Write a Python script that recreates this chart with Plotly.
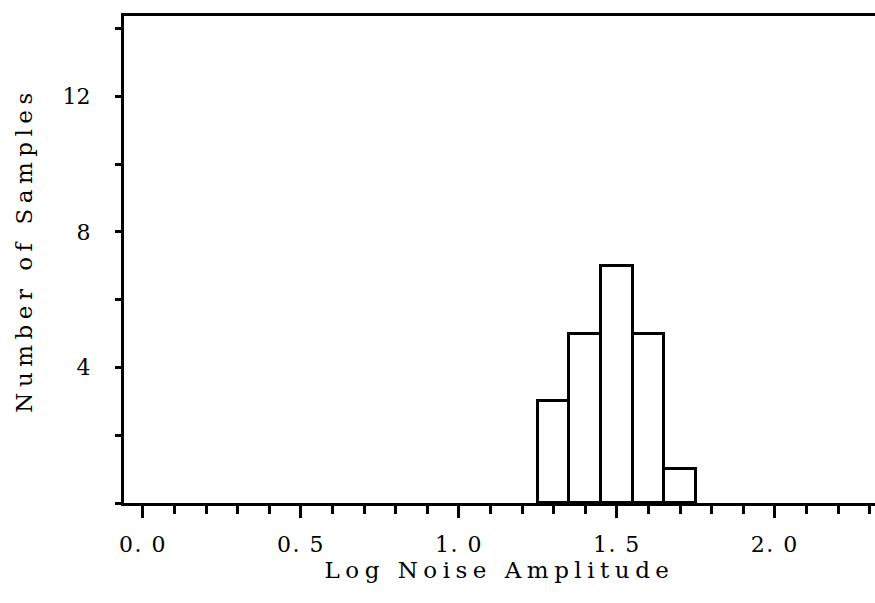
import plotly.graph_objects as go

# Data
bin_centers = [1.3, 1.4, 1.5, 1.6, 1.7]
counts = [3, 5, 7, 5, 1]
bin_width = 0.1
x_tick_vals = [0.0, 0.5, 1.0, 1.5, 2.0]
x_tick_text = ["0. 0", "0. 5", "1. 0", "1. 5", "2. 0"]
y_tick_vals = [4, 8, 12]
y_tick_text = ["4", "8", "12"]

FONT = "DejaVu Serif"

fig = go.Figure()
fig.add_trace(go.Bar(
    x=bin_centers, y=counts, width=[bin_width] * len(counts),
    marker=dict(color="white", line=dict(color="black", width=3)),
    showlegend=False, hoverinfo="skip",
))

fig.update_layout(
    width=875, height=603,
    margin=dict(l=124, r=0, t=16, b=100, autoexpand=False),
    paper_bgcolor="white", plot_bgcolor="white",
    font=dict(family=FONT, color="black", size=22),
    bargap=0,
    xaxis=dict(
        range=[-0.060, 2.317],
        tickvals=x_tick_vals, ticktext=x_tick_text,
        ticks="outside", ticklen=12, tickwidth=3, tickcolor="black",
        minor=dict(dtick=0.1, tick0=0, ticks="outside", ticklen=8, tickwidth=3, tickcolor="black"),
        showline=True, linewidth=3, linecolor="black", mirror=True,
        showgrid=False, zeroline=False, automargin=False,
        tickfont=dict(family=FONT, size=22),
        ticklabelstandoff=8,
        title=dict(text="Log Noise Amplitude", font=dict(family=FONT, size=23), standoff=4),
    ),
    yaxis=dict(
        range=[0, 14.37],
        tickvals=y_tick_vals, ticktext=y_tick_text,
        ticks="outside", ticklen=6, tickwidth=3, tickcolor="black",
        minor=dict(dtick=2, tick0=0, ticks="outside", ticklen=6, tickwidth=3, tickcolor="black"),
        showline=True, linewidth=3, linecolor="black", mirror=False,
        showgrid=False, zeroline=False, automargin=False,
        tickfont=dict(family=FONT, size=22),
        ticklabelstandoff=20,
    ),
    annotations=[dict(
        text="Number of Samples", textangle=-90,
        xref="paper", yref="paper", x=-0.133, y=0.52,
        xanchor="center", yanchor="middle", showarrow=False,
        font=dict(family=FONT, size=23),
    )],
)

post = """
document.documentElement.style.margin = '0';
document.body.style.margin = '0';
document.body.style.overflow = 'hidden';
var gd = document.getElementById('{plot_id}');
function spacing(){
  gd.querySelectorAll('text.xtitle, .annotation-text').forEach(function(t){ t.style.letterSpacing = '5.5px'; });
  gd.querySelectorAll('.xtick text').forEach(function(t){ t.style.letterSpacing = '1.5px'; });
}
spacing();
gd.on('plotly_afterplot', spacing);
"""

fig.write_html("out.html", post_script=post, config={"displayModeBar": False})
